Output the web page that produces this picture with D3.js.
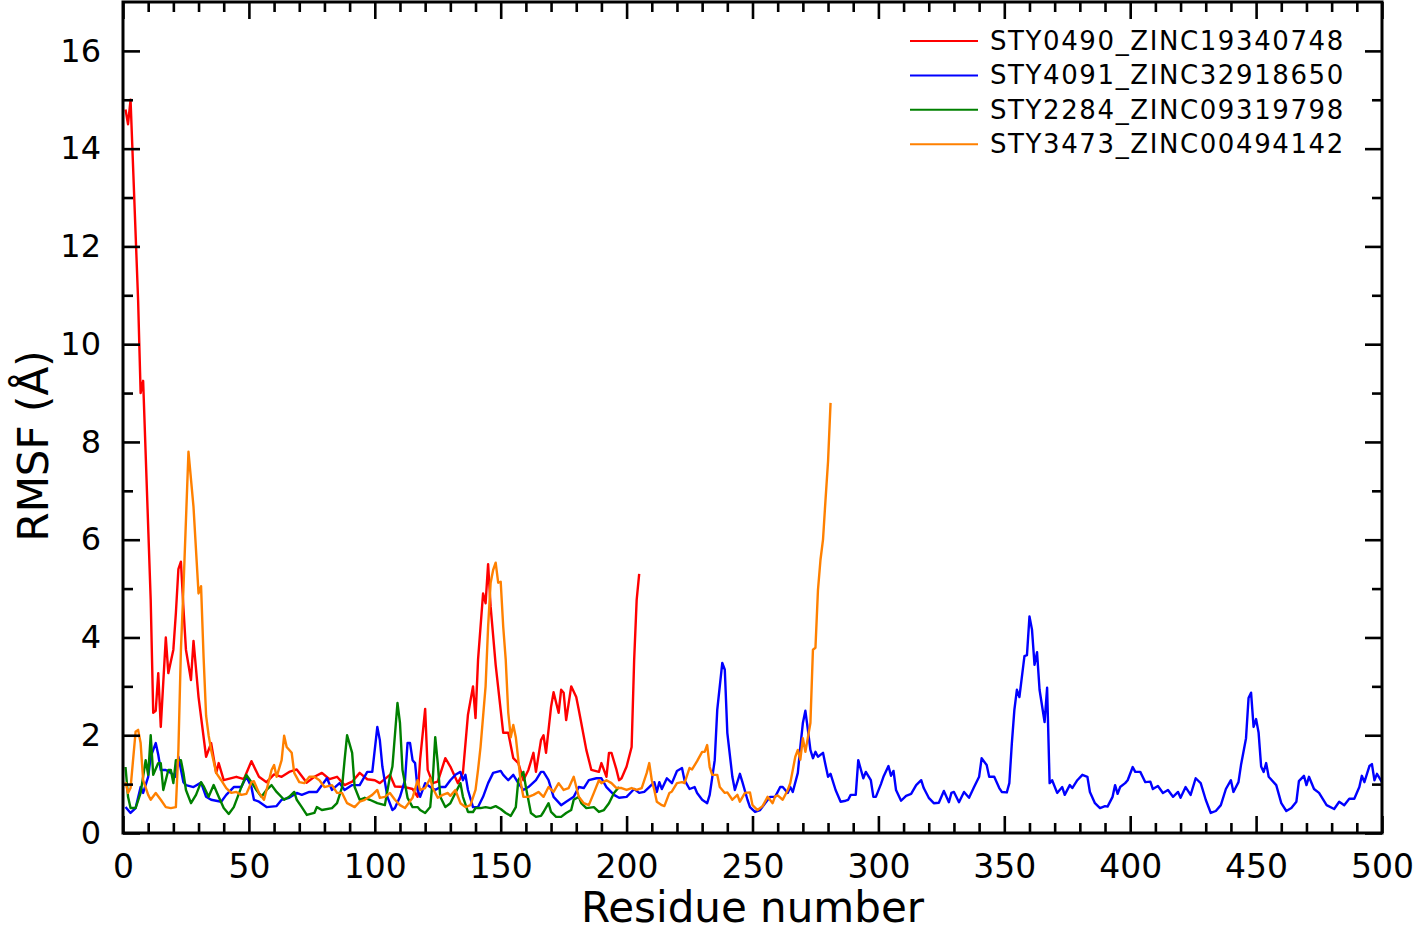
<!DOCTYPE html>
<html>
<head>
<meta charset="utf-8">
<script src="https://cdn.jsdelivr.net/npm/d3@7"></script>
<style>
	body { margin: 0; background: #ffffff; }
	svg { display: block; font-family: "DejaVu Sans", Verdana, sans-serif; }
</style>
</head>
<body>
<div id="chart"></div>
<script>
// RMSF per residue as [residue, RMSF in Angstrom]
var sty0490 = [[1,14.8],[2,14.5],[3,15.0],[6,10.9],[7,9.0],[8,9.25],[11,4.77],[12,2.46],[13,2.5],[14,3.27],[15,2.17],[17,4.0],[18,3.27],[20,3.75],[21,4.5],[22,5.4],[23,5.55],[24,4.6],[25,3.75],[27,3.13],[28,3.93],[30,2.78],[33,1.56],[35,1.84],[37,1.23],[38,1.43],[40,1.08],[45,1.15],[48,1.1],[51,1.47],[54,1.15],[57,1.04],[60,1.2],[63,1.15],[66,1.25],[69,1.3],[73,1.03],[76,1.15],[79,1.23],[82,1.1],[85,1.15],[88,0.98],[91,1.05],[94,1.23],[97,1.1],[100,1.08],[102,1.02],[106,1.19],[108,0.95],[112,0.94],[115,0.9],[117,0.74],[118,1.5],[120,2.54],[121,1.29],[123,1.02],[125,1.05],[128,1.53],[130,1.36],[133,1.02],[135,1.23],[137,2.42],[139,3.0],[140,2.35],[141,3.54],[143,4.9],[144,4.7],[145,5.5],[146,4.63],[148,3.44],[151,2.05],[153,2.05],[155,1.53],[157,1.43],[159,1.08],[161,1.29],[163,1.64],[164,1.25],[166,1.9],[167,2.0],[168,1.64],[170,2.58],[171,2.88],[173,2.46],[174,2.93],[175,2.87],[176,2.31],[178,3.0],[180,2.78],[181,2.52],[182,2.25],[184,1.7],[186,1.29],[189,1.25],[190,1.43],[192,1.15],[193,1.64],[194,1.64],[196,1.29],[197,1.08],[198,1.12],[200,1.36],[202,1.76],[203,3.54],[204,4.77],[205,5.3]];

var sty4091 = [[1,0.53],[3,0.41],[5,0.51],[7,0.94],[8,0.82],[10,1.15],[11,1.56],[13,1.84],[14,1.6],[15,1.29],[17,1.29],[19,1.23],[21,1.15],[22,1.56],[24,1.04],[25,0.98],[28,0.94],[31,1.03],[33,0.74],[35,0.68],[39,0.64],[41,0.78],[44,0.94],[47,0.94],[49,1.15],[51,0.94],[52,0.68],[54,0.64],[57,0.53],[61,0.55],[63,0.68],[66,0.72],[69,0.82],[71,0.78],[74,0.84],[77,0.84],[81,1.12],[83,0.88],[86,1.02],[88,0.88],[91,0.98],[94,0.98],[97,1.25],[99,1.25],[101,2.17],[102,1.9],[103,1.36],[105,0.74],[107,0.47],[108,0.51],[110,0.74],[112,1.08],[113,1.84],[114,1.84],[115,1.49],[116,1.43],[117,0.88],[118,0.74],[120,1.02],[122,0.94],[124,0.88],[126,0.94],[128,0.94],[130,1.08],[132,1.19],[134,1.25],[135,1.08],[136,1.19],[137,0.88],[139,0.53],[141,0.53],[143,0.74],[145,1.02],[147,1.23],[150,1.27],[151,1.19],[153,1.08],[155,1.19],[157,1.02],[159,0.88],[161,0.94],[164,1.08],[166,1.25],[167,1.25],[169,1.08],[171,0.74],[174,0.57],[176,0.64],[179,0.74],[181,0.94],[183,0.92],[185,1.08],[188,1.12],[190,1.12],[192,0.94],[195,0.78],[197,0.72],[200,0.74],[203,0.9],[205,0.82],[207,0.84],[209,0.94],[211,1.04],[212,0.84],[213,1.04],[214,0.9],[216,1.12],[218,1.02],[220,1.27],[222,1.33],[223,1.08],[225,0.9],[227,0.94],[228,0.82],[230,0.68],[232,0.61],[233,0.78],[235,1.49],[236,2.52],[238,3.48],[239,3.34],[240,2.05],[242,1.15],[243,0.88],[245,1.21],[246,1.04],[248,0.68],[249,0.53],[251,0.43],[253,0.47],[255,0.61],[257,0.74],[259,0.74],[261,0.94],[262,0.94],[264,0.82],[265,0.94],[266,0.84],[268,1.23],[269,1.76],[270,2.25],[271,2.5],[272,2.11],[273,1.7],[274,1.53],[275,1.66],[276,1.56],[278,1.64],[279,1.39],[280,1.15],[281,1.21],[283,0.88],[285,0.64],[287,0.66],[288,0.68],[289,0.78],[291,0.78],[292,1.49],[294,1.12],[295,1.25],[297,1.08],[298,0.74],[299,0.74],[301,1.0],[302,1.15],[304,1.37],[305,1.17],[306,1.27],[307,0.88],[309,0.66],[311,0.76],[313,0.8],[315,0.98],[317,1.08],[318,0.92],[320,0.72],[322,0.61],[324,0.62],[326,0.86],[328,0.63],[329,0.82],[330,0.84],[332,0.63],[334,0.84],[336,0.72],[338,0.94],[340,1.15],[341,1.53],[343,1.39],[344,1.15],[346,1.15],[348,0.92],[349,0.84],[351,0.83],[352,1.02],[353,1.84],[354,2.52],[355,2.93],[356,2.78],[358,3.62],[359,3.64],[360,4.43],[361,4.16],[362,3.44],[363,3.7],[364,2.93],[366,2.27],[367,2.97],[368,1.02],[369,1.08],[371,0.82],[373,0.94],[374,0.78],[376,0.98],[377,0.92],[379,1.08],[381,1.19],[383,1.15],[384,0.84],[386,0.61],[388,0.51],[390,0.55],[391,0.54],[393,0.74],[394,0.98],[395,0.8],[396,0.94],[398,1.02],[399,1.08],[401,1.35],[402,1.25],[404,1.25],[406,1.04],[408,1.05],[409,0.9],[411,0.96],[413,0.82],[415,0.88],[417,0.74],[419,0.84],[420,0.72],[422,0.94],[424,0.78],[426,1.12],[428,1.02],[430,0.68],[432,0.41],[434,0.45],[436,0.57],[438,0.9],[440,1.08],[441,0.84],[443,1.04],[444,1.39],[446,1.94],[447,2.76],[448,2.87],[449,2.17],[450,2.33],[451,2.05],[452,1.36],[453,1.25],[454,1.43],[455,1.15],[458,0.98],[460,0.61],[462,0.45],[464,0.51],[466,0.64],[467,1.06],[469,1.17],[470,0.98],[471,1.15],[473,0.9],[475,0.82],[478,0.57],[481,0.49],[483,0.64],[485,0.57],[487,0.7],[489,0.7],[491,0.94],[492,1.17],[493,1.04],[495,1.37],[496,1.41],[497,1.08],[498,1.21],[500,1.04]];

var sty2284 = [[1,1.35],[2,0.74],[3,0.51],[5,0.51],[7,0.82],[9,1.49],[10,1.19],[11,2.0],[12,1.19],[14,1.43],[15,1.43],[16,0.88],[18,1.29],[19,1.29],[20,1.02],[21,1.49],[23,1.49],[24,1.23],[25,0.88],[27,0.61],[29,0.78],[31,1.04],[32,0.96],[34,0.74],[36,0.98],[38,0.74],[40,0.51],[42,0.39],[44,0.53],[47,0.94],[49,1.19],[51,1.04],[53,0.88],[55,0.74],[57,0.88],[59,0.98],[61,0.84],[64,0.68],[66,0.74],[68,0.84],[69,0.68],[71,0.53],[73,0.37],[76,0.41],[77,0.53],[79,0.47],[83,0.51],[85,0.61],[87,0.94],[88,1.49],[89,2.0],[91,1.64],[92,0.94],[94,0.68],[96,0.72],[98,0.68],[101,0.61],[104,0.57],[106,1.15],[107,1.36],[109,2.66],[110,2.25],[111,1.29],[113,0.72],[115,0.53],[117,0.53],[118,0.47],[120,0.41],[122,0.53],[123,1.08],[124,1.96],[125,1.43],[126,0.74],[128,0.53],[130,0.61],[132,0.82],[134,1.02],[135,0.74],[137,0.43],[139,0.43],[140,0.51],[142,0.51],[144,0.53],[146,0.51],[148,0.55],[150,0.49],[152,0.41],[154,0.35],[156,0.53],[157,1.08],[159,1.25],[160,0.94],[162,0.41],[164,0.33],[166,0.35],[167,0.43],[169,0.61],[170,0.43],[172,0.33],[174,0.33],[176,0.41],[178,0.47],[179,0.68],[181,0.74],[182,0.61],[184,0.51],[187,0.53],[189,0.43],[191,0.47],[193,0.61],[195,0.82],[197,0.94]];

var sty3473 = [[1,1.04],[2,0.82],[3,0.92],[5,2.07],[6,2.11],[7,1.84],[8,1.08],[10,0.78],[11,0.68],[13,0.82],[15,0.68],[17,0.53],[19,0.51],[21,0.53],[22,1.7],[23,3.75],[24,5.0],[26,7.8],[28,6.67],[30,4.9],[31,5.05],[32,3.6],[33,2.4],[34,2.0],[35,1.7],[37,1.23],[39,1.08],[41,0.92],[43,0.82],[45,0.84],[47,0.78],[49,0.8],[51,1.04],[52,1.06],[54,0.82],[56,0.68],[58,1.08],[59,1.29],[60,1.39],[61,1.15],[63,1.49],[64,1.99],[65,1.76],[67,1.64],[68,1.23],[70,1.04],[72,1.02],[74,1.15],[76,1.15],[78,1.08],[80,0.94],[83,0.98],[85,0.82],[87,0.82],[89,0.61],[92,0.53],[94,0.64],[96,0.68],[99,0.78],[101,0.88],[102,0.72],[104,0.74],[106,0.82],[108,0.68],[110,0.57],[112,0.51],[115,0.72],[117,1.08],[118,0.88],[120,0.92],[122,1.12],[123,0.92],[125,0.72],[127,0.78],[129,0.82],[130,0.76],[132,0.88],[134,0.61],[136,0.53],[138,0.57],[140,0.88],[141,1.29],[142,1.76],[144,3.0],[145,4.22],[146,5.12],[147,5.38],[148,5.53],[149,5.12],[150,5.14],[151,4.22],[152,3.54],[153,2.46],[154,1.96],[155,2.21],[156,1.96],[158,1.02],[159,0.74],[161,0.74],[163,0.78],[165,0.84],[167,0.74],[169,0.94],[171,0.84],[173,1.02],[175,0.88],[177,0.92],[179,1.15],[181,0.74],[183,0.61],[185,0.57],[187,0.82],[189,1.08],[190,1.02],[192,1.08],[194,1.02],[196,0.92],[198,0.92],[200,0.88],[202,0.92],[204,0.88],[206,0.92],[208,1.23],[209,1.43],[210,1.08],[211,0.88],[212,0.64],[214,0.57],[215,0.55],[217,0.82],[218,0.85],[220,1.02],[222,1.04],[223,1.02],[225,1.33],[226,1.3],[228,1.47],[230,1.66],[231,1.66],[232,1.8],[233,1.35],[234,1.19],[236,1.19],[237,0.94],[239,0.82],[240,0.83],[242,0.68],[244,0.78],[245,0.64],[247,0.82],[249,0.83],[250,0.57],[252,0.47],[254,0.55],[256,0.74],[258,0.61],[259,0.75],[260,0.77],[262,0.68],[264,0.88],[265,1.02],[267,1.56],[268,1.7],[269,1.5],[270,1.94],[271,1.66],[273,2.25],[274,3.75],[275,3.79],[276,4.97],[277,5.59],[278,6.0],[279,6.82],[280,7.6],[281,8.8]];

var seriesNames = ["STY0490_ZINC19340748", "STY4091_ZINC32918650", "STY2284_ZINC09319798", "STY3473_ZINC00494142"];
var seriesColors = ["#ff0000", "#0000ff", "#008000", "#ff8000"];
var xTicks = [0, 50, 100, 150, 200, 250, 300, 350, 400, 450, 500];
var yTicks = [0, 2, 4, 6, 8, 10, 12, 14, 16];

var allSeries = [sty0490, sty4091, sty2284, sty3473];

var width = 1416, height = 931;
var margin = { top: 2, right: 34, bottom: 98, left: 123 };
var w = width - margin.left - margin.right;
var h = height - margin.top - margin.bottom;

var svg = d3.select('#chart').append('svg')
	.attr('width', width)
	.attr('height', height);

var xscale = d3.scaleLinear().domain([0, 500]).range([0, w]);
var yscale = d3.scaleLinear().domain([0, 17]).range([h, 0]);

var plot = svg.append('g')
	.attr('transform', 'translate(' + margin.left + ',' + margin.top + ')');

plot.append('clipPath')
	.attr('id', 'clip')
	.append('rect')
	.attr('width', w)
	.attr('height', h);

// Data lines
var line = d3.line()
	.x(function(d) { return xscale(d[0]); })
	.y(function(d) { return yscale(d[1]); });

plot.append('g')
	.attr('clip-path', 'url(#clip)')
	.selectAll('path')
	.data(allSeries)
	.enter()
	.append('path')
	.attr('d', line)
	.attr('fill', 'none')
	.attr('stroke', function(d, i) { return seriesColors[i]; })
	.attr('stroke-width', 2.4)
	.attr('stroke-linejoin', 'round');

// Ticks point inward on all four sides, minor ones in between
var xMinor = d3.range(0, 501, 10).filter(function(v) { return v % 50 != 0; });
var yMinor = d3.range(1, 17, 2);

function tickStyle(sel) {
	sel.select('.domain').remove();
	sel.selectAll('.tick line').attr('stroke', '#000').attr('stroke-width', 2.6);
	sel.selectAll('.tick text')
		.attr('fill', '#000')
		.style('font-size', '33px')
		.style('font-family', '"DejaVu Sans", Verdana, sans-serif');
}

var bottomMajor = plot.append('g')
	.attr('transform', 'translate(0,' + h + ')')
	.call(d3.axisBottom(xscale).tickValues(xTicks).tickSize(-17).tickPadding(22).tickFormat(d3.format('d')));
tickStyle(bottomMajor);
var bottomMinor = plot.append('g')
	.attr('transform', 'translate(0,' + h + ')')
	.call(d3.axisBottom(xscale).tickValues(xMinor).tickSize(-10).tickFormat(''));
tickStyle(bottomMinor);

var topMajor = plot.append('g')
	.call(d3.axisTop(xscale).tickValues(xTicks).tickSize(-17).tickFormat(''));
tickStyle(topMajor);
var topMinor = plot.append('g')
	.call(d3.axisTop(xscale).tickValues(xMinor).tickSize(-10).tickFormat(''));
tickStyle(topMinor);

var leftMajor = plot.append('g')
	.call(d3.axisLeft(yscale).tickValues(yTicks).tickSize(-17).tickPadding(22).tickFormat(d3.format('d')));
tickStyle(leftMajor);
leftMajor.selectAll('.tick text').style('font-size', '32px');
var leftMinor = plot.append('g')
	.call(d3.axisLeft(yscale).tickValues(yMinor).tickSize(-10).tickFormat(''));
tickStyle(leftMinor);

var rightMajor = plot.append('g')
	.attr('transform', 'translate(' + w + ',0)')
	.call(d3.axisRight(yscale).tickValues(yTicks).tickSize(-17).tickFormat(''));
tickStyle(rightMajor);
var rightMinor = plot.append('g')
	.attr('transform', 'translate(' + w + ',0)')
	.call(d3.axisRight(yscale).tickValues(yMinor).tickSize(-10).tickFormat(''));
tickStyle(rightMinor);

// Frame
plot.append('rect')
	.attr('width', w)
	.attr('height', h)
	.attr('fill', 'none')
	.attr('stroke', '#000')
	.attr('stroke-width', 3);

// Axis titles
svg.append('text')
	.attr('x', margin.left + w / 2)
	.attr('y', 922)
	.attr('text-anchor', 'middle')
	.style('font-size', '42px')
	.text('Residue number');

svg.append('text')
	.attr('transform', 'translate(48,446) rotate(-90)')
	.attr('text-anchor', 'middle')
	.style('font-size', '42px')
	.text('RMSF (Å)');

// Legend
var legend = svg.append('g')
	.selectAll('g')
	.data(seriesNames)
	.enter()
	.append('g')
	.attr('transform', function(d, i) { return 'translate(910,' + (41 + i * 34.4) + ')'; });

legend.append('line')
	.attr('x1', 0)
	.attr('x2', 68)
	.attr('stroke', function(d, i) { return seriesColors[i]; })
	.attr('stroke-width', 2);

legend.append('text')
	.attr('x', 80)
	.attr('y', 9)
	.style('font-size', '26px')
	.style('letter-spacing', '1.6px')
	.text(function(d) { return d; });
</script>
</body>
</html>
